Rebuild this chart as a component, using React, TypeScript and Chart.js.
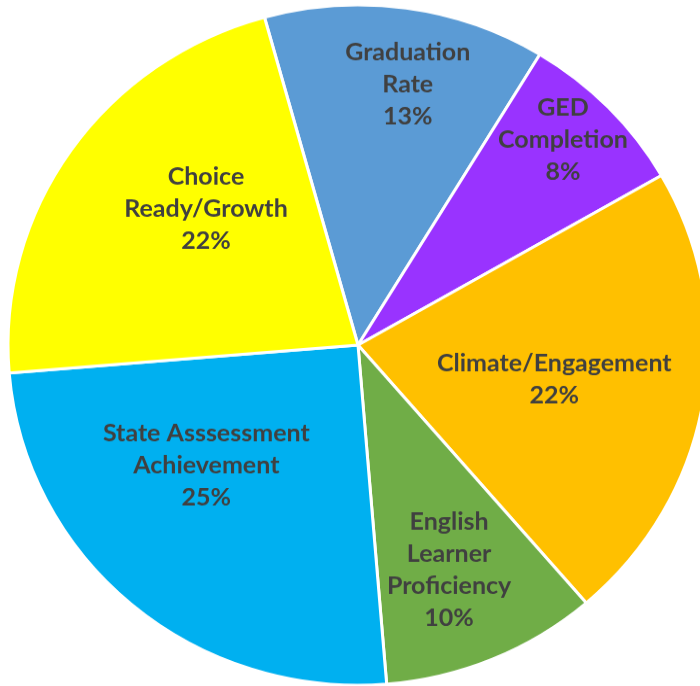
import React, { useEffect, useRef } from "react";
import { Chart, registerables } from "chart.js";

Chart.register(...registerables);

const categories: string[][] = [
  ["Graduation", "Rate"],
  ["GED", "Completion"],
  ["Climate/Engagement"],
  ["English", "Learner", "Proficiency"],
  ["State Asssessment", "Achievement"],
  ["Choice", "Ready/Growth"],
];
const values: number[] = [13, 8, 22, 10, 25, 22];
const percentLabels: string[] = ["13%", "8%", "22%", "10%", "25%", "22%"];
const colors: string[] = ["#5B9BD5", "#9933FF", "#FFC000", "#70AD47", "#00B0F0", "#FFFF00"];
// label placement: fraction of radius and angle offset (degrees) from slice middle
const labelRadius: number[] = [0.78, 0.84, 0.57, 0.71, 0.56, 0.59];
const labelAngleOffset: number[] = [2.6, -1.5, 0.6, 1.2, 10.4, 7.7];

const labelPlugin = {
  id: "sliceLabels",
  afterDatasetsDraw(chart: any) {
    const ctx = chart.ctx;
    const meta = chart.getDatasetMeta(0);
    ctx.save();
    ctx.fillStyle = "#404040";
    ctx.font = "bold 25px Lato, 'Open Sans', sans-serif";
    ctx.textAlign = "center";
    ctx.textBaseline = "middle";
    const lineH = 32.9;
    meta.data.forEach((arc: any, i: number) => {
      const p = arc.getProps(["x", "y", "startAngle", "endAngle", "outerRadius"], true);
      const mid = (p.startAngle + p.endAngle) / 2 + (labelAngleOffset[i] * Math.PI) / 180;
      const r = p.outerRadius * labelRadius[i];
      const cx = p.x + Math.cos(mid) * r;
      const cy = p.y + Math.sin(mid) * r;
      const lines = [...categories[i], percentLabels[i]];
      const top = cy - ((lines.length - 1) * lineH) / 2;
      lines.forEach((t, j) => ctx.fillText(t, cx, top + j * lineH));
    });
    ctx.restore();
  },
};

export default function App() {
  const ref = useRef<HTMLCanvasElement>(null);
  useEffect(() => {
    if (!ref.current) return;
    const chart = new Chart(ref.current, {
      type: "pie",
      data: {
        labels: categories.map((c) => c.join(" ")),
        datasets: [
          {
            data: values,
            backgroundColor: colors,
            borderColor: "#FFFFFF",
            borderWidth: 3,
            clip: false as any,
          } as any,
        ],
      },
      options: {
        animation: false,
        responsive: false,
        events: [],
        rotation: -15.5,
        radius: 350,
        layout: { padding: { left: 16, right: 0, top: 4, bottom: 0 } },
        plugins: {
          legend: { display: false },
          tooltip: { enabled: false },
        },
      } as any,
      plugins: [labelPlugin],
    });
    return () => chart.destroy();
  }, []);
  return (
    <div style={{ position: "absolute", left: 0, top: 0, width: 700, height: 686, overflow: "hidden", background: "#fff" }}>
      <canvas
        ref={ref}
        width={700}
        height={706}
        style={{ display: "block", transform: "scaleY(0.972)", transformOrigin: "0 0" }}
      />
    </div>
  );
}
